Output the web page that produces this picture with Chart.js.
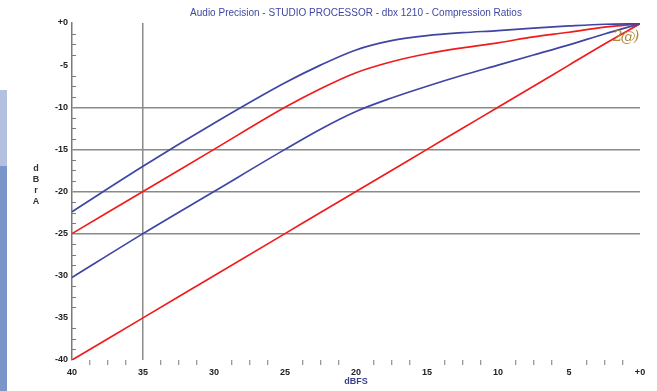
<!DOCTYPE html>
<html>
<head>
<meta charset="utf-8">
<script src="https://cdn.jsdelivr.net/npm/chart.js@4.4.1/dist/chart.umd.min.js"></script>
<style>
html,body{margin:0;padding:0;background:#fff;}
#wrap{position:relative;width:657px;height:391px;overflow:hidden;}
#c{position:absolute;left:0;top:0;}
.bar1{position:absolute;left:0;top:90px;width:7px;height:76px;background:#b4c0e0;}
.bar2{position:absolute;left:0;top:166px;width:7px;height:225px;background:#7a96c8;}
.ylab{position:absolute;left:30px;top:163px;width:12px;font:bold 9px "Liberation Sans",Arial,sans-serif;line-height:11px;text-align:center;color:#333;}
.note{position:absolute;left:613px;top:27px;font:italic 15px "DejaVu Serif",serif;color:#b08a3a;letter-spacing:-2px;}
</style>
</head>
<body>
<div id="wrap">
<canvas id="c" width="657" height="391"></canvas>
<div class="bar1"></div><div class="bar2"></div>
<div class="ylab">d<br>B<br>r<br>A</div>
<div class="note">2@)</div>
</div>
<script>
// ---- data ----
const chartTitle = 'Audio Precision - STUDIO PROCESSOR - dbx 1210 - Compression Ratios';
const xAxisTitle = 'dBFS';
const inputLevels = [-40, -35, -30, -25, -22.5, -20, -17.5, -15, -12.5, -10, -7.5, -5, -2.5, 0];
const blueUpper   = [-22.4, -17.0, -11.9, -7.1, -5.0, -3.2, -2.1, -1.5, -1.15, -0.9, -0.6, -0.35, -0.15, -0.1];
const redUpper    = [-25.0, -20.0, -15.0, -10.0, -7.8, -5.9, -4.6, -3.65, -2.95, -2.35, -1.65, -1.1, -0.5, -0.1];
const blueLower   = [-30.2, -25.0, -20.0, -15.0, -12.6, -10.5, -8.9, -7.5, -6.2, -5.0, -3.8, -2.6, -1.3, -0.1];
const redLower    = [-40.0, -35.0, -30.0, -25.0, -22.5, -20.0, -17.5, -15.0, -12.5, -10.0, -7.5, -5.0, -2.5, -0.1];
const xTickLabels = ['40', '35', '30', '25', '20', '15', '10', '5', '+0'];
const yTickLabels = ['+0', '-5', '-10', '-15', '-20', '-25', '-30', '-35', '-40'];
const yGridLevels = [-10, -15, -20, -25];
const xGridLevels = [-35];

const BLUE = '#3f45a3', RED = '#f01c1c', GRID = '#8a8a8a', AXIS = '#7a7a7a';

function pts(ys) { return inputLevels.map((x, i) => ({ x: x, y: ys[i] })); }
function isMult5(v) { return Math.abs(v / 5 - Math.round(v / 5)) < 1e-6; }

const minorTicks = {
  id: 'minorTicks',
  afterDraw(chart) {
    const ctx = chart.ctx, ys = chart.scales.y, x0 = chart.chartArea.left;
    ctx.save();
    ctx.strokeStyle = AXIS; ctx.lineWidth = 1;
    for (let v = -40; v <= 0.001; v += 1.25) {
      if (isMult5(v)) continue;
      const py = Math.round(ys.getPixelForValue(v)) + 0.5;
      ctx.beginPath(); ctx.moveTo(x0, py); ctx.lineTo(x0 + 4, py); ctx.stroke();
    }
    ctx.restore();
  }
};

const ds = (label, ys, color) => ({
  label, data: pts(ys), borderColor: color, backgroundColor: color,
  borderWidth: 1.7, pointRadius: 0, fill: false, cubicInterpolationMode: 'monotone'
});

new Chart(document.getElementById('c'), {
  type: 'line',
  data: {
    datasets: [
      ds('blue upper', blueUpper, BLUE),
      ds('red upper', redUpper, RED),
      ds('blue lower', blueLower, BLUE),
      ds('red lower', redLower, RED)
    ]
  },
  options: {
    responsive: false,
    animation: false,
    layout: { padding: { left: 0, right: 17, top: 0, bottom: 0 } },
    plugins: {
      legend: { display: false },
      tooltip: { enabled: false },
      title: {
        display: true, text: chartTitle, fullSize: false, color: '#4048a0',
        font: { family: 'Liberation Sans', size: 10, weight: 'normal' },
        padding: { top: 7, bottom: 4 }
      }
    },
    scales: {
      x: {
        type: 'linear', min: -40, max: 0,
        afterFit: s => { s.height = 31; },
        border: { display: false },
        grid: {
          color: c => (c.tick && xGridLevels.includes(c.tick.value)) ? GRID : 'rgba(0,0,0,0)',
          tickColor: c => (c.tick && isMult5(c.tick.value)) ? 'rgba(0,0,0,0)' : AXIS,
          lineWidth: 1.5, tickLength: 5, tickWidth: 1
        },
        ticks: {
          stepSize: 1.25, autoSkip: false, maxRotation: 0, padding: 2,
          color: '#222', font: { family: 'Liberation Sans', size: 9, weight: 'bold' },
          callback: v => isMult5(v) ? xTickLabels[Math.round((v + 40) / 5)] : ''
        },
        title: {
          display: true, text: xAxisTitle, color: '#3a3f8a',
          font: { family: 'Liberation Sans', size: 9, weight: 'bold' },
          padding: { top: 0, bottom: 4 }
        }
      },
      y: {
        type: 'linear', min: -40, max: 0,
        afterFit: s => { s.width = 72; },
        border: { display: true, color: AXIS, width: 1.5 },
        grid: {
          color: c => (c.tick && yGridLevels.includes(c.tick.value)) ? GRID : 'rgba(0,0,0,0)',
          lineWidth: 1.5, drawTicks: false, tickLength: 0
        },
        ticks: {
          stepSize: 5, padding: 4, color: '#222',
          font: { family: 'Liberation Sans', size: 9, weight: 'bold' },
          callback: v => yTickLabels[Math.round(-v / 5)]
        }
      }
    }
  },
  plugins: [minorTicks]
});
</script>
</body>
</html>
